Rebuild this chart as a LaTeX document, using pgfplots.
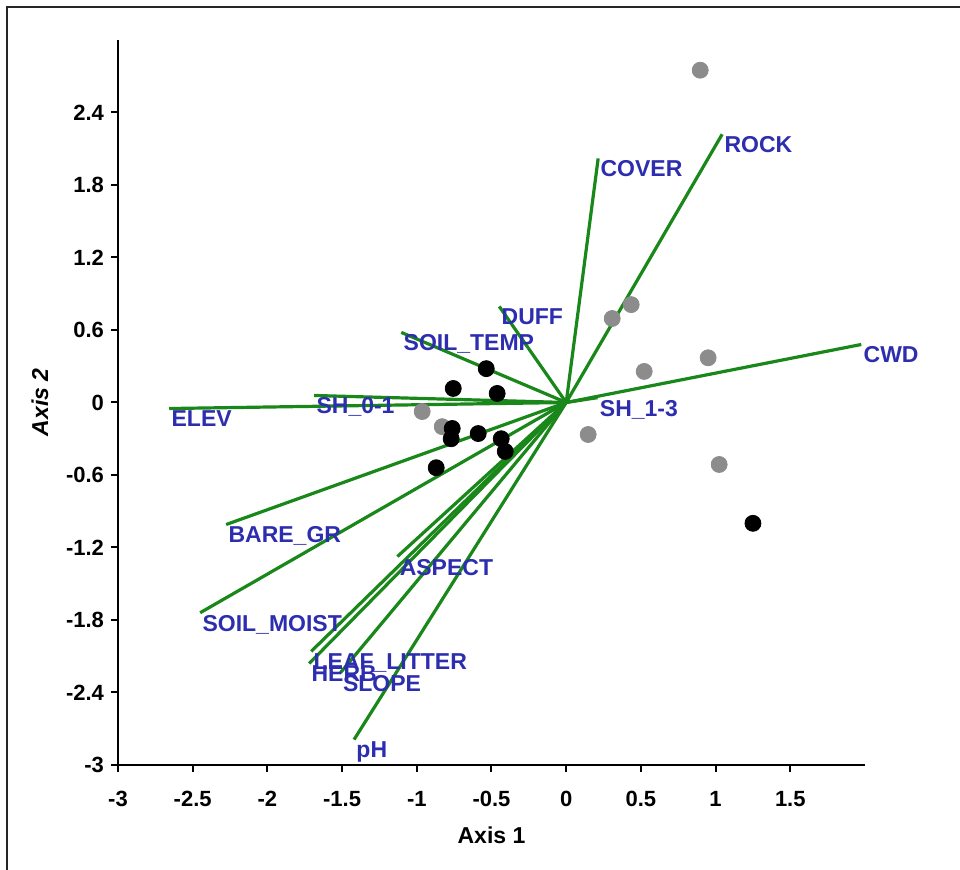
\documentclass[border=0pt]{standalone}
\usepackage{fontspec}
\setmainfont{Liberation Sans}
\usepackage{pgfplots}
\pgfplotsset{compat=1.18}
\definecolor{vec}{RGB}{25,135,25}
\definecolor{lab}{RGB}{45,45,175}
\definecolor{pgray}{RGB}{140,140,140}
\begin{document}
\begin{tikzpicture}
\begin{axis}[name=ax, at={(0,0)}, anchor=south west,
  scale only axis, width=373.5pt, height=362.5pt,
  xmin=-3, xmax=2, ymin=-3, ymax=3,
  axis x line*=bottom, axis y line*=left,
  axis line style={line width=1pt, black},
  tick align=outside, major tick length=3.5pt,
  tick style={line width=1pt, black},
  xtick={-3,-2.5,-2,-1.5,-1,-0.5,0,0.5,1,1.5},
  xticklabels={-3,-2.5,-2,-1.5,-1,-0.5,0,0.5,1,1.5},
  ytick={-3,-2.4,-1.8,-1.2,-0.6,0,0.6,1.2,1.8,2.4},
  yticklabels={-3,-2.4,-1.8,-1.2,-0.6,0,0.6,1.2,1.8,2.4},
  ticklabel style={font=\bfseries\fontsize{11}{13}\selectfont},
  xticklabel style={yshift=-6pt},
  xlabel={\bfseries Axis 1},
  ylabel={\bfseries\itshape Axis 2},
  xlabel style={font=\fontsize{11.5}{13}\selectfont, at={(axis description cs:0.5,-0.0966)}, anchor=center},
  ylabel style={font=\fontsize{11.5}{13}\selectfont, at={(axis description cs:-0.1044,0.5)}, anchor=center},
  clip=false,
]
% vectors
\pgfplotsset{every axis plot/.append style={}}
\addplot[vec, line width=1.6pt] coordinates {(0,0) (1.044,2.22)};
\addplot[vec, line width=1.6pt] coordinates {(0,0) (0.214,2.02)};
\addplot[vec, line width=1.6pt] coordinates {(0,0) (-0.448,0.795)};
\addplot[vec, line width=1.6pt] coordinates {(0,0) (-1.104,0.58)};
\addplot[vec, line width=1.6pt] coordinates {(0,0) (1.975,0.48)};
\addplot[vec, line width=1.6pt] coordinates {(0,0) (-1.687,0.058)};
\addplot[vec, line width=1.6pt] coordinates {(0,0) (-2.657,-0.05)};
\addplot[vec, line width=1.6pt] coordinates {(0,0) (0.21,0.04)};
\addplot[vec, line width=1.6pt] coordinates {(0,0) (-2.276,-1.01)};
\addplot[vec, line width=1.6pt] coordinates {(0,0) (-2.45,-1.74)};
\addplot[vec, line width=1.6pt] coordinates {(0,0) (-1.13,-1.275)};
\addplot[vec, line width=1.6pt] coordinates {(0,0) (-1.707,-2.06)};
\addplot[vec, line width=1.6pt] coordinates {(0,0) (-1.72,-2.16)};
\addplot[vec, line width=1.6pt] coordinates {(0,0) (-1.51,-2.235)};
\addplot[vec, line width=1.6pt] coordinates {(0,0) (-1.42,-2.79)};
% gray points
\addplot[only marks, mark=*, mark size=4pt, color=pgray] coordinates {
 (0.897,2.75) (0.435,0.81) (0.308,0.695) (0.95,0.37) (0.522,0.257)
 (0.147,-0.265) (1.024,-0.513) (-0.964,-0.075) (-0.83,-0.2)};
% black points
\addplot[only marks, mark=*, mark size=4pt, color=black] coordinates {
 (1.25,-1.0) (-0.535,0.28) (-0.756,0.116) (-0.462,0.075) (-0.763,-0.215)
 (-0.77,-0.30) (-0.589,-0.257) (-0.435,-0.30) (-0.408,-0.405) (-0.87,-0.54)};
% labels
\begin{scope}[every node/.style={text=lab, font=\bfseries\fontsize{11.5}{13}\selectfont, anchor=north west, inner sep=1pt}]
\node at (axis cs:1.044,2.22) {ROCK};
\node at (axis cs:0.214,2.02) {COVER};
\node at (axis cs:-0.448,0.795) {DUFF};
\node at (axis cs:-1.104,0.58) {SOIL\_TEMP};
\node at (axis cs:1.975,0.48) {CWD};
\node at (axis cs:-1.687,0.058) {SH\_0-1};
\node at (axis cs:-2.657,-0.05) {ELEV};
\node at (axis cs:0.21,0.04) {SH\_1-3};
\node at (axis cs:-2.276,-1.01) {BARE\_GR};
\node at (axis cs:-2.45,-1.74) {SOIL\_MOIST};
\node at (axis cs:-1.13,-1.275) {ASPECT};
\node at (axis cs:-1.707,-2.06) {LEAF\_LITTER};
\node at (axis cs:-1.72,-2.16) {HERB};
\node at (axis cs:-1.51,-2.235) {SLOPE};
\node at (axis cs:-1.42,-2.79) {pH};
\end{scope}
\end{axis}
\path[use as bounding box] (-59pt,-52.5pt) rectangle (421pt,382.5pt);
\draw[line width=1pt, black!85] (-55.5pt,-52.5pt) -- (-55.5pt,379pt) -- (421pt,379pt);
\end{tikzpicture}
\end{document}
